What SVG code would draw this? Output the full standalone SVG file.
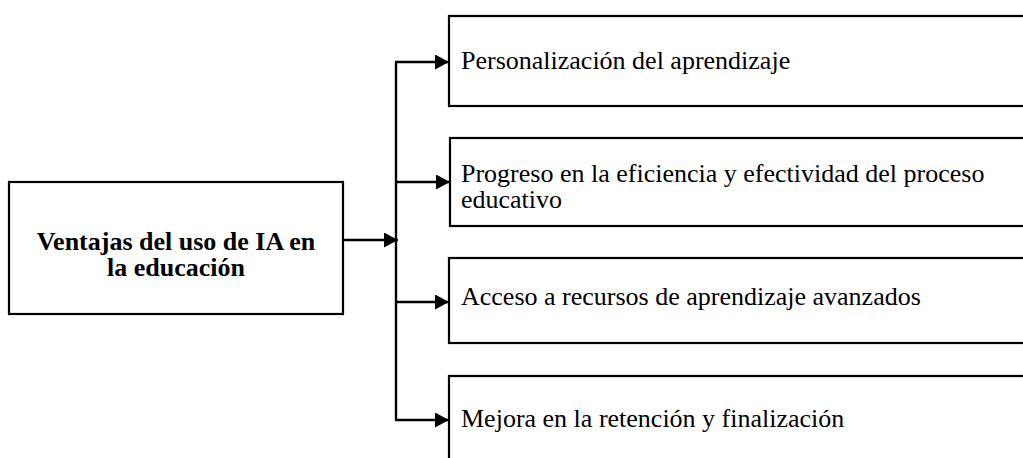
<svg xmlns="http://www.w3.org/2000/svg" width="1023" height="458" viewBox="0 0 1023 458">
<defs>
<style>
.box{fill:#fff;stroke:#000;stroke-width:2.2}
.conn{fill:none;stroke:#000;stroke-width:2.4}
.t{font-family:"Liberation Serif","Times New Roman",serif;font-size:26px;fill:#000}
.tb{font-family:"Liberation Serif","Times New Roman",serif;font-size:26px;font-weight:bold;fill:#000;text-anchor:middle}
</style>
<marker id="ah" markerWidth="14" markerHeight="15" refX="14" refY="7.5" orient="auto" markerUnits="userSpaceOnUse">
<path d="M0,0 L14,7.5 L0,15 Z" fill="#000"/>
</marker>
</defs>
<rect width="1023" height="458" fill="#fff"/>
<g id="main">
<rect class="box" x="9" y="182" width="334" height="132"/>
<text class="tb" x="176" y="250">Ventajas del uso de IA en</text>
<text class="tb" x="176" y="276">la educación</text>
</g>
<g id="n1">
<rect class="box" x="449" y="16" width="590" height="90"/>
<text class="t" x="461" y="69">Personalización del aprendizaje</text>
</g>
<g id="n2">
<rect class="box" x="450" y="138" width="590" height="88"/>
<text class="t" x="461" y="182">Progreso en la eficiencia y efectividad del proceso</text>
<text class="t" x="461" y="208">educativo</text>
</g>
<g id="n3">
<rect class="box" x="449" y="258" width="590" height="85"/>
<text class="t" x="461" y="305">Acceso a recursos de aprendizaje avanzados</text>
</g>
<g id="n4">
<rect class="box" x="449" y="376" width="590" height="100"/>
<text class="t" x="461" y="427">Mejora en la retención y finalización</text>
</g>
<g id="connectors">
<path class="conn" d="M343,240 H398" marker-end="url(#ah)"/>
<path class="conn" d="M396,62 V420"/>
<path class="conn" d="M395,62 H449" marker-end="url(#ah)"/>
<path class="conn" d="M396,182 H450" marker-end="url(#ah)"/>
<path class="conn" d="M396,302 H449" marker-end="url(#ah)"/>
<path class="conn" d="M395,420 H449" marker-end="url(#ah)"/>
</g>
</svg>
